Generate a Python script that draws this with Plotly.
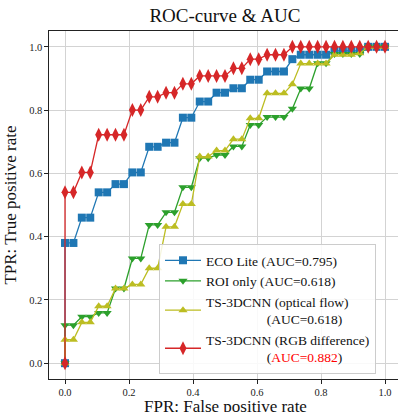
import plotly.graph_objects as go

# False positive rate grid (shared by all curves)
fpr = [0.0, 0.0, 0.0263, 0.0526, 0.0789, 0.1053, 0.1316, 0.1579, 0.1842, 0.2105,
       0.2368, 0.2632, 0.2895, 0.3158, 0.3421, 0.3684, 0.3947, 0.4211, 0.4474,
       0.4737, 0.5, 0.5263, 0.5526, 0.5789, 0.6053, 0.6316, 0.6579, 0.6842,
       0.7105, 0.7368, 0.7632, 0.7895, 0.8158, 0.8421, 0.8684, 0.8947, 0.9211,
       0.9474, 0.9737, 1.0]

tpr_eco = [0.0, 0.38, 0.38, 0.46, 0.46, 0.54, 0.54, 0.566, 0.566, 0.603, 0.603,
           0.684, 0.684, 0.697, 0.697, 0.776, 0.776, 0.827, 0.827, 0.855, 0.855,
           0.869, 0.869, 0.896, 0.896, 0.922, 0.922, 0.922, 0.961, 0.975, 0.975,
           0.975, 0.975, 0.987, 0.987, 0.987, 0.987, 1.0, 1.0, 1.0]

tpr_roi = [0.0, 0.12, 0.12, 0.147, 0.147, 0.159, 0.159, 0.236, 0.236, 0.331, 0.331,
           0.437, 0.437, 0.477, 0.477, 0.556, 0.556, 0.648, 0.648, 0.658, 0.658,
           0.685, 0.685, 0.753, 0.753, 0.778, 0.778, 0.778, 0.804, 0.868, 0.868,
           0.948, 0.948, 0.977, 0.977, 0.977, 0.977, 1.0, 1.0, 1.0]

tpr_flow = [0.0, 0.074, 0.074, 0.129, 0.129, 0.18, 0.18, 0.236, 0.236, 0.249, 0.249,
            0.30, 0.30, 0.431, 0.431, 0.503, 0.503, 0.653, 0.653, 0.672, 0.672,
            0.708, 0.708, 0.774, 0.774, 0.853, 0.853, 0.853, 0.882, 0.947, 0.947,
            0.947, 0.947, 0.975, 0.975, 0.975, 0.98, 1.0, 1.0, 1.0]

tpr_rgb = [0.0, 0.54, 0.54, 0.603, 0.603, 0.722, 0.722, 0.722, 0.722, 0.80, 0.80,
           0.842, 0.842, 0.855, 0.855, 0.883, 0.883, 0.908, 0.908, 0.908, 0.908,
           0.932, 0.932, 0.961, 0.961, 0.975, 0.975, 0.975, 1.0, 1.0, 1.0,
           1.0, 1.0, 1.0, 1.0, 1.0, 1.0, 1.0, 1.0, 1.0]

x_ticks = [0.0, 0.2, 0.4, 0.6, 0.8, 1.0]
y_ticks = [0.0, 0.2, 0.4, 0.6, 0.8, 1.0]

NB = "\u00a0"
labels = [
    "ECO Lite (AUC=0.795)",
    "ROI only (AUC=0.618)",
    "TS-3DCNN (optical flow)<br>" + NB * 18 + "(AUC=0.618)",
    "TS-3DCNN (RGB difference)<br>" + NB * 18
    + "(<span style='color:#ff0000'>AUC=0.882</span>)",
]
series = [tpr_eco, tpr_roi, tpr_flow, tpr_rgb]
colors = ["#1f77b4", "#2ca02c", "#bcbd22", "#d62728"]
symbols = ["square", "triangle-down", "triangle-up", "diamond-tall"]
sizes = [8, 8, 8, 10]

FONT = "Liberation Serif"

fig = go.Figure()
for lab, ys, c, s, ms in zip(labels, series, colors, symbols, sizes):
    fig.add_trace(go.Scatter(
        x=fpr, y=ys, mode="lines+markers", name=lab,
        line=dict(color=c, width=1.3),
        marker=dict(symbol=s, size=ms, color=c, line=dict(width=0)),
    ))

axis_common = dict(
    showgrid=True, gridcolor="#d3d3d3", gridwidth=1,
    zeroline=False, showline=True, linecolor="#222222", linewidth=1.2,
    ticks="outside", ticklen=3.5, tickcolor="#222222", tickwidth=1,
    tickfont=dict(family=FONT, size=10.5, color="#222222"),
    tickformat=".1f", automargin=False,
)

fig.update_layout(
    width=398, height=412,
    margin=dict(l=49, r=0, t=31, b=33),
    paper_bgcolor="white", plot_bgcolor="white",
    font=dict(family=FONT, color="#111111"),
    title=dict(text="ROC-curve & AUC", x=0.565, xanchor="center",
               y=1 - 15 / 412, yanchor="middle",
               font=dict(family=FONT, size=19, color="#111111")),
    xaxis=dict(range=[-0.05, 1.0406], tickvals=x_ticks, mirror=True,
               **axis_common),
    yaxis=dict(range=[-0.05, 1.05], tickvals=y_ticks,
               title=dict(text="TPR: True positive rate", standoff=8,
                          font=dict(family=FONT, size=17)),
               **axis_common),
    legend=dict(x=(159 - 49) / 349, y=(379 - 374) / 348, xanchor="left", yanchor="bottom",
                bgcolor="rgba(255,255,255,0.85)", bordercolor="#cccccc", borderwidth=1,
                font=dict(family=FONT, size=13.5, color="#111111"),
                itemwidth=36, tracegroupgap=0),
    showlegend=True,
)

# x-axis title placed just below the tick labels, as in the reference
fig.add_annotation(text="FPR: False positive rate", xref="paper", yref="paper",
                   x=(225 - 49) / 349, y=(379 - 406) / 348, xanchor="center", yanchor="middle",
                   showarrow=False, font=dict(family=FONT, size=17, color="#111111"))

fig.write_html("out.html", config={"displayModeBar": False})

# remove the browser's default page margin so the figure sits at the top-left corner
with open("out.html", "r", encoding="utf-8") as f:
    html = f.read()
html = html.replace("<body>", "<body style=\"margin:0;padding:0;overflow:hidden\">", 1)
with open("out.html", "w", encoding="utf-8") as f:
    f.write(html)
